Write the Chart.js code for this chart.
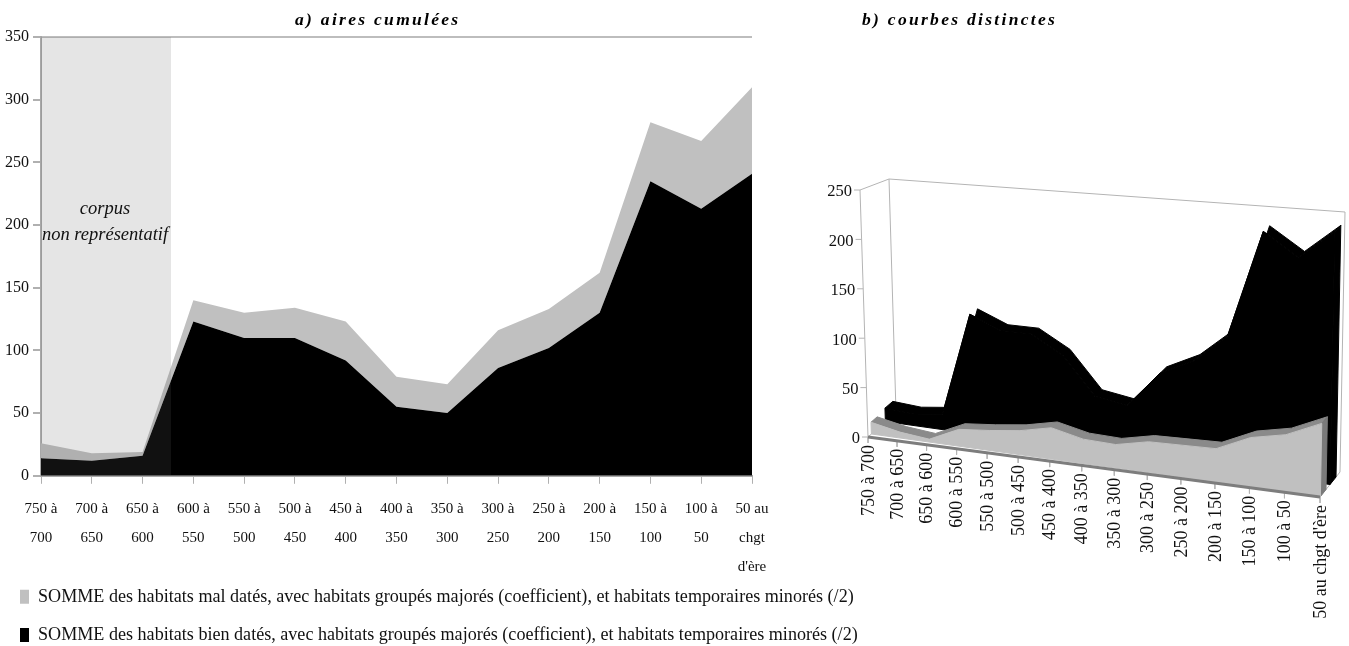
<!DOCTYPE html>
<html lang="fr"><head><meta charset="utf-8">
<style>
html,body{margin:0;padding:0;background:#fff;width:1349px;height:646px;overflow:hidden}
canvas{position:absolute}
.t{position:absolute;top:9px;font:italic bold 17.5px "Liberation Serif",serif;letter-spacing:2.3px;color:#000;white-space:nowrap}
</style>
<script src="https://cdn.jsdelivr.net/npm/chart.js@4/dist/chart.umd.min.js"></script>
</head><body>
<div style="position:absolute;left:0;top:0;width:880px;height:654px"><canvas id="a"></canvas></div>
<div style="position:absolute;left:780px;top:150px;width:569px;height:496px"><canvas id="b"></canvas></div>
<div class="t" style="left:295px">a) aires cumulées</div>
<div class="t" style="left:862px">b) courbes distinctes</div>
<script>
const categoriesWrapped = [['750 à','700'],['700 à','650'],['650 à','600'],['600 à','550'],['550 à','500'],['500 à','450'],['450 à','400'],['400 à','350'],['350 à','300'],['300 à','250'],['250 à','200'],['200 à','150'],['150 à','100'],['100 à','50'],['50 au','chgt',"d'ère"]];
const categoriesFlat = ['750 à 700','700 à 650','650 à 600','600 à 550','550 à 500','500 à 450','450 à 400','400 à 350','350 à 300','300 à 250','250 à 200','200 à 150','150 à 100','100 à 50',"50 au chgt d'ère"];
const bienDates = [14,12,16,123,110,110,92,55,50,86,102,130,235,213,241];
const malDates  = [12,6,3,17,20,24,31,24,23,30,31,32,47,54,69];
const ticksRight = [0,50,100,150,200,250];
const nameMal  = 'SOMME des habitats mal datés, avec habitats groupés majorés (coefficient), et habitats temporaires minorés (/2)';
const nameBien = 'SOMME des habitats bien datés, avec habitats groupés majorés (coefficient), et habitats temporaires minorés (/2)';
const noteLines = ['corpus','non représentatif'];
const SERIF = '"Liberation Serif",serif';
const INK = '#111';

Chart.defaults.animation = false;
Chart.defaults.responsive = false;

/* ---------- a) stacked areas ---------- */
const shade = {
  id:'shade',
  beforeDraw(c){ c.scales.x.bottom += 12; }, /* lets the third label line run past the axis box */
  afterDatasetsDraw(c){
    const {ctx,chartArea:ca,scales:{x,y}} = c;
    const right = x.getPixelForValue(2.56);
    ctx.save();
    ctx.fillStyle='rgba(100,100,100,0.17)';
    ctx.fillRect(ca.left,ca.top,right-ca.left,ca.bottom-ca.top);
    ctx.fillStyle=INK;
    ctx.font='italic 18.5px '+SERIF;
    ctx.textAlign='center';ctx.textBaseline='middle';
    const cx=(ca.left+right)/2;
    ctx.fillText(noteLines[0],cx-1,y.getPixelForValue(212.5));
    ctx.fillText(noteLines[1],cx-1,y.getPixelForValue(192));
    ctx.restore();
  }
};
const ca = document.getElementById('a');
ca.width=880;ca.height=654;ca.style.width='880px';ca.style.height='654px';
new Chart(ca,{
  type:'line',
  data:{labels:categoriesWrapped,datasets:[
    {label:nameBien,data:bienDates,backgroundColor:'#000',borderColor:'#000',fill:'origin',order:1},
    {label:nameMal,data:malDates,backgroundColor:'#c0c0c0',borderColor:'#c0c0c0',fill:'-1',order:2}
  ]},
  options:{
    layout:{padding:{top:37,right:0,left:0,bottom:0}},
    elements:{point:{radius:0},line:{tension:0,borderWidth:0}},
    scales:{
      x:{offset:false,
        grid:{color:'transparent',tickColor:'#b0b0b0',tickLength:8,drawOnChartArea:false},
        border:{color:'#a8a8a8',width:2},
        ticks:{autoSkip:false,maxRotation:0,minRotation:0,padding:11,color:INK,font:{family:SERIF,size:15,lineHeight:1.93}},
        afterFit(s){s.height=92;}
      },
      y:{stacked:true,min:0,max:350,
        grid:{color:c=>c.tick&&c.tick.value===350?'#bdbdbd':'transparent',tickColor:'#b0b0b0',tickLength:8,lineWidth:2},
        border:{color:'#a8a8a8',width:2},
        ticks:{stepSize:50,padding:4,color:INK,font:{family:SERIF,size:16}},
        afterFit(s){s.width=41;}
      },
      spacer:{position:'right',min:0,max:350,
        grid:{display:false},border:{display:false},ticks:{display:false},
        afterFit(s){s.width=128;}
      }
    },
    plugins:{
      tooltip:{enabled:false},
      legend:{position:'bottom',align:'start',
        labels:{boxWidth:9,boxHeight:14,padding:20,color:INK,font:{family:SERIF,size:18.1},
          sort:(p,q)=>q.datasetIndex-p.datasetIndex}
      }
    }
  },
  plugins:[shade]
});

/* ---------- b) perspective areas: each value projected through the corners of the 3-D box ---------- */
const box = {
  flb:[868,437], flt:[860,190], blb:[896,412], blt:[889,179],
  frb:[1320,497], frt:[1325,232], brb:[1340,472], brt:[1345,212]
};
const lerp=(a,b,t)=>a+(b-a)*t;
const N = categoriesFlat.length-1;
const warp = i => (29*i+0.25*i*(i-1))/(29*N+0.25*N*(N-1));
function project(i,v,d){
  const u=warp(i), h=v/250, p=[0,1].map(k=>{
    const lb=lerp(box.flb[k],box.blb[k],d), lt=lerp(box.flt[k],box.blt[k],d),
          rb=lerp(box.frb[k],box.brb[k],d), rt=lerp(box.frt[k],box.brt[k],d);
    return lerp(lerp(lb,lt,h),lerp(rb,rt,h),u);
  });
  return {x:p[0],y:p[1]};
}
const idx = categoriesFlat.map((_,i)=>i);
const depthBlack = {front:[0.62,0.50], back:[0.90,0.80]};
const depthGray  = {front:[0.12,0.02], back:[0.34,0.30]};
const dAt=(r,i)=>lerp(r[0],r[1],i/N);
function face(vals,dep){
  const d=i=>dAt(dep.front,i);
  const top=idx.map(i=>project(i,vals[i],d(i)));
  return [project(0,0,d(0)),...top,project(N,0,d(N))];
}
function topBand(vals,dep){
  const f=idx.map(i=>project(i,vals[i],dAt(dep.front,i)));
  const b=idx.map(i=>project(i,vals[i],dAt(dep.back,i))).reverse();
  return [...f,...b];
}
function sideWall(vals,dep,i){
  const a=dAt(dep.front,i),b=dAt(dep.back,i);
  return [project(i,0,a),project(i,vals[i],a),project(i,vals[i],b),project(i,0,b)];
}
const poly=(data,color)=>({data,showLine:false,polyColor:color,pointRadius:0});
const wire=(data,color,w)=>({data,showLine:true,fill:false,borderColor:color,borderWidth:w||1,pointRadius:0,tension:0});
const FRAME='#b4b4b4';
/* first entry is painted last (on top) */
const faces=[
  wire([project(0,0,0),project(N,0,0)],'#7d7d7d',3),
  poly(face(malDates,depthGray),'#c0c0c0'),
  poly(sideWall(malDates,depthGray,N),'#7a7a7a'),
  poly(topBand(malDates,depthGray),'#8a8a8a'),
  poly(face(bienDates,depthBlack),'#000'),
  poly(sideWall(bienDates,depthBlack,N),'#000'),
  poly(topBand(bienDates,depthBlack),'#000'),
  wire([project(N,0,0),project(N,0,1)],FRAME),
  wire([project(0,250,0),project(0,0,0)],FRAME),
  wire([project(0,250,0),project(0,250,1)],FRAME),
  wire([project(0,250,1),project(N,250,1)],FRAME),
  wire([project(N,250,1),project(N,0,1)],FRAME),
  wire([project(0,250,1),project(0,0,1)],FRAME),
  wire([project(0,0,0),project(0,0,1)],FRAME),
  ...ticksRight.map(v=>{const p=project(0,v,0);return wire([p,{x:p.x-6,y:p.y}],FRAME);}),
  ...idx.map(i=>{const p=project(i,0,0);return wire([p,{x:p.x,y:p.y+6}],FRAME);})
];
/* fills each outline through the points the library has placed on its scales */
const polyFill={
  id:'polyFill',
  beforeDatasetDraw(c,{index,meta}){
    const col=c.data.datasets[index].polyColor;
    if(!col) return;
    const g=c.ctx;
    g.save();g.beginPath();
    meta.data.forEach((p,k)=>k?g.lineTo(p.x,p.y):g.moveTo(p.x,p.y));
    g.closePath();g.fillStyle=col;g.strokeStyle=col;g.lineWidth=1;g.fill();g.stroke();g.restore();
  }
};
const axisText={
  id:'axisText',
  afterDraw(c){
    const {ctx,scales:{x,y}}=c;
    ctx.save();ctx.fillStyle=INK;ctx.font='16.5px '+SERIF;
    ctx.textAlign='right';ctx.textBaseline='middle';
    ticksRight.forEach(v=>{
      const p=project(0,v,0);
      ctx.fillText(String(v),x.getPixelForValue(p.x)-8,y.getPixelForValue(p.y)+2);
    });
    ctx.font='18px '+SERIF;
    idx.forEach(i=>{
      const p=project(i,0,0);
      ctx.save();
      ctx.translate(x.getPixelForValue(p.x)+1,y.getPixelForValue(p.y)+8);
      ctx.rotate(-Math.PI/2);
      ctx.fillText(categoriesFlat[i],0,0);
      ctx.restore();
    });
    ctx.restore();
  }
};
const cb=document.getElementById('b');
cb.width=569;cb.height=496;cb.style.width='569px';cb.style.height='496px';
new Chart(cb,{
  type:'scatter',
  data:{datasets:faces},
  options:{
    layout:{padding:0},
    scales:{
      x:{type:'linear',display:false,min:780,max:1349},
      y:{type:'linear',display:false,min:150,max:646,reverse:true}
    },
    plugins:{legend:{display:false},tooltip:{enabled:false}}
  },
  plugins:[polyFill,axisText]
});
</script>
</body></html>
